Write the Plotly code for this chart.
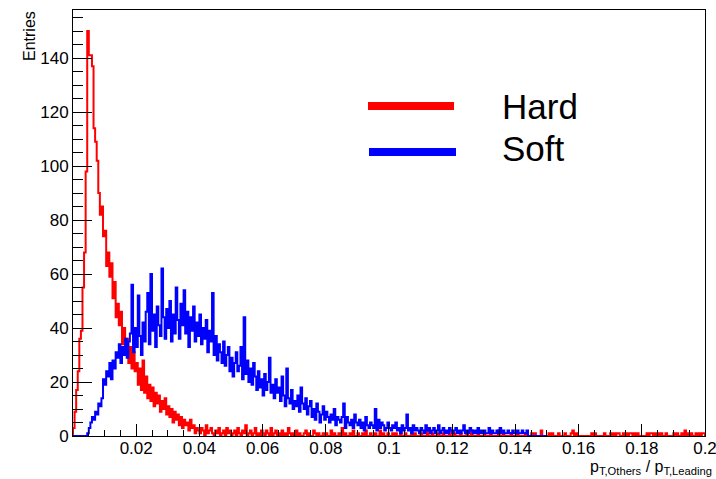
import numpy as np
import plotly.graph_objects as go

# ---------------- data ----------------
bin_width = 0.0005
x_min = 0.0
x_max = 0.2
y_max = 157.8

# "Hard" histogram counts, bins of 0.0005 starting at 0
hard_counts = [
    3, 9, 17, 24, 36, 39, 55, 68, 98, 150, 141, 141, 137, 114, 109, 102, 90, 82, 85, 74,
    76, 63, 68, 59, 64, 51, 57, 44, 49, 41, 46, 34, 40, 31, 36, 27, 33, 25, 31, 24,
    27, 19, 25, 17, 28, 16, 22, 14, 19, 13, 18, 11, 16, 12, 15, 9, 13, 10, 14, 8,
    11, 7, 10, 5, 9, 6, 8, 4, 7, 3, 6, 4, 5, 2, 6, 3, 4, 1, 3, 2,
    1, 3, 2, 0, 4, 1, 2, 3, 1, 0, 2, 1, 3, 0, 1, 2, 0, 3, 1, 2,
    0, 1, 2, 0, 3, 1, 0, 2, 1, 4, 0, 1, 2, 0, 1, 3, 0, 1, 0, 2,
    1, 0, 2, 1, 0, 3, 0, 1, 2, 0, 1, 0, 2, 0, 1, 0, 3, 1, 0, 1,
    0, 2, 0, 1, 0, 0, 1, 2, 0, 1, 0, 0, 2, 1, 0, 1, 0, 0, 1, 0,
    1, 0, 0, 2, 0, 1, 0, 0, 1, 0, 3, 0, 1, 0, 0, 1, 0, 2, 0, 0,
    1, 0, 0, 1, 0, 2, 0, 0, 1, 0, 0, 1, 0, 0, 2, 0, 1, 0, 0, 1,
    0, 0, 1, 0, 1, 0, 0, 2, 0, 0, 1, 0, 0, 0, 1, 0, 1, 0, 0, 0,
    1, 0, 0, 0, 2, 0, 0, 1, 0, 0, 0, 1, 0, 0, 1, 0, 0, 0, 2, 0,
    0, 1, 0, 0, 0, 1, 0, 0, 0, 1, 0, 0, 2, 0, 0, 0, 1, 0, 0, 0,
    1, 0, 0, 0, 1, 0, 0, 0, 0, 2, 0, 0, 1, 0, 0, 0, 0, 1, 0, 0,
    0, 1, 0, 0, 0, 0, 1, 0, 0, 0, 1, 0, 1, 0, 0, 0, 2, 0, 0, 0,
    0, 1, 0, 1, 0, 0, 0, 1, 0, 0, 0, 1, 0, 0, 0, 1, 2, 0, 1, 0,
    0, 0, 0, 0, 0, 0, 0, 0, 1, 0, 1, 0, 0, 0, 0, 0, 1, 0, 0, 0,
    1, 0, 1, 0, 1, 1, 0, 0, 1, 0, 1, 0, 1, 1, 0, 1, 0, 1, 0, 0,
    0, 0, 0, 1, 0, 1, 1, 0, 1, 0, 1, 0, 1, 0, 0, 1, 0, 0, 0, 0,
    1, 0, 1, 0, 0, 1, 0, 2, 0, 1, 0, 1, 0, 0, 1, 0, 1, 0, 1, 1,
]

# "Soft" histogram counts, same binning
soft_counts = [
    0, 0, 0, 0, 0, 0, 0, 0, 0, 1, 3, 5, 7, 6, 9, 8, 12, 11, 14, 21,
    19, 24, 22, 27, 21, 28, 25, 31, 29, 34, 27, 33, 30, 36, 29, 35, 38, 56, 31, 40,
    33, 52, 37, 30, 42, 35, 46, 53, 34, 60, 39, 45, 33, 48, 41, 37, 62, 44, 36, 47,
    40, 50, 35, 45, 38, 55, 43, 36, 49, 41, 54, 38, 46, 33, 44, 39, 48, 35, 42, 37,
    45, 34, 40, 36, 43, 31, 39, 35, 53, 30, 37, 28, 34, 31, 27, 35, 26, 30, 33, 24,
    29, 22, 27, 31, 24, 26, 33, 21, 44, 23, 28, 20, 25, 19, 27, 22, 17, 24, 18, 21,
    15, 23, 17, 20, 29, 16, 19, 14, 21, 16, 18, 13, 22, 15, 11, 25, 14, 12, 17, 10,
    13, 11, 15, 9, 18, 12, 10, 14, 8, 11, 13, 7, 10, 6, 12, 9, 5, 8, 11, 6,
    9, 7, 5, 8, 6, 10, 4, 7, 6, 5, 7, 12, 3, 7, 5, 4, 6, 3, 8, 5,
    4, 6, 3, 5, 2, 7, 4, 3, 5, 4, 3, 10, 2, 6, 3, 5, 4, 2, 3, 5,
    3, 2, 4, 3, 5, 2, 3, 1, 4, 2, 3, 8, 2, 3, 1, 4, 2, 3, 2, 1,
    3, 2, 1, 4, 2, 3, 1, 2, 3, 1, 2, 4, 1, 2, 3, 1, 2, 1, 3, 2,
    1, 2, 3, 1, 2, 1, 2, 4, 1, 2, 1, 3, 2, 1, 2, 1, 3, 1, 2, 1,
    2, 1, 1, 3, 1, 2, 1, 1, 2, 1, 3, 1, 2, 1, 1, 2, 1, 1, 2, 1,
    1, 2, 1, 1, 2, 1, 1, 2, 0, 0, 0, 0, 0, 0, 0, 0, 0, 0, 0, 0,
]

series_names = ["Hard", "Soft"]
series_colors = ["#ff0000", "#0000ff"]

x_tick_values = [0.02, 0.04, 0.06, 0.08, 0.1, 0.12, 0.14, 0.16, 0.18, 0.2]
x_tick_labels = ["0.02", "0.04", "0.06", "0.08", "0.1", "0.12", "0.14", "0.16", "0.18", "0.2"]
y_tick_values = [0, 20, 40, 60, 80, 100, 120, 140]
y_tick_labels = ["0", "20", "40", "60", "80", "100", "120", "140"]

x_title = "p<sub>T,Others</sub> / p<sub>T,Leading</sub>"
y_title = "Entries"

# ---------------- figure ----------------
W, H = 716, 479
ML, MR, MT, MB = 73, 11, 10, 43
PW, PH = W - ML - MR, H - MT - MB


def px_x(p):
    return (p - ML) / PW


def px_y(p):
    return 1 - (p - MT) / PH


def step_xy(counts):
    n = len(counts)
    edges = x_min + bin_width * np.arange(n + 1)
    xs = [edges[0]] + list(edges) + [edges[-1]]
    ys = [0] + list(counts) + [counts[-1], 0]
    return xs, ys


FONT = "Liberation Sans, Arial, Helvetica, sans-serif"

fig = go.Figure()
for counts, name, col in zip([hard_counts, soft_counts], series_names, series_colors):
    xs, ys = step_xy(counts)
    fig.add_trace(go.Scatter(x=xs, y=ys, mode="lines", name=name,
                             line=dict(color=col, width=2, shape="hv"),
                             showlegend=False, hoverinfo="skip"))

axis_common = dict(showline=True, linecolor="black", linewidth=1, mirror=True,
                   showgrid=False, zeroline=False, ticks="inside", tickcolor="black",
                   ticklabeloverflow="allow", automargin=False,
                   tickfont=dict(family=FONT, size=17, color="black"))

fig.update_xaxes(range=[x_min, x_max * 1.00002], tickmode="array", tickvals=x_tick_values,
                 ticktext=x_tick_labels, ticklen=12, tickwidth=1, ticklabelstandoff=-3,
                 minor=dict(tickmode="linear", tick0=0, dtick=0.005, ticklen=6,
                            ticks="inside", tickcolor="black", tickwidth=1),
                 **axis_common)
fig.update_yaxes(range=[0, y_max], tickmode="array", tickvals=y_tick_values,
                 ticktext=y_tick_labels, ticklen=19, tickwidth=1,
                 minor=dict(tickmode="linear", tick0=0, dtick=5, ticklen=9.5,
                            ticks="inside", tickcolor="black", tickwidth=1),
                 **axis_common)

# legend drawn as shapes + text
legend_rows = [(368, 454, 106), (369, 456, 152)]
text_rows = [106, 149]
for (x0, x1, yy), ty, name, col in zip(legend_rows, text_rows, series_names, series_colors):
    fig.add_shape(type="line", xref="paper", yref="paper",
                  x0=px_x(x0), x1=px_x(x1), y0=px_y(yy), y1=px_y(yy),
                  line=dict(color=col, width=8))
    fig.add_annotation(text=name, xref="paper", yref="paper", x=px_x(500), y=px_y(ty),
                       xanchor="left", yanchor="middle", showarrow=False,
                       font=dict(family=FONT, size=35, color="black"))

fig.add_annotation(text=y_title, xref="paper", yref="paper", x=px_x(29), y=px_y(9),
                   xanchor="center", yanchor="top", textangle=-90, showarrow=False,
                   font=dict(family=FONT, size=16, color="black"))
fig.add_annotation(text=x_title, xref="paper", yref="paper", x=px_x(714), y=px_y(479),
                   xanchor="right", yanchor="bottom", showarrow=False,
                   font=dict(family=FONT, size=16, color="black"))

fig.update_layout(width=W, height=H, margin=dict(l=ML, r=MR, t=MT, b=MB, autoexpand=False),
                  paper_bgcolor="white", plot_bgcolor="white", showlegend=False)

fig.write_html("out.html")
